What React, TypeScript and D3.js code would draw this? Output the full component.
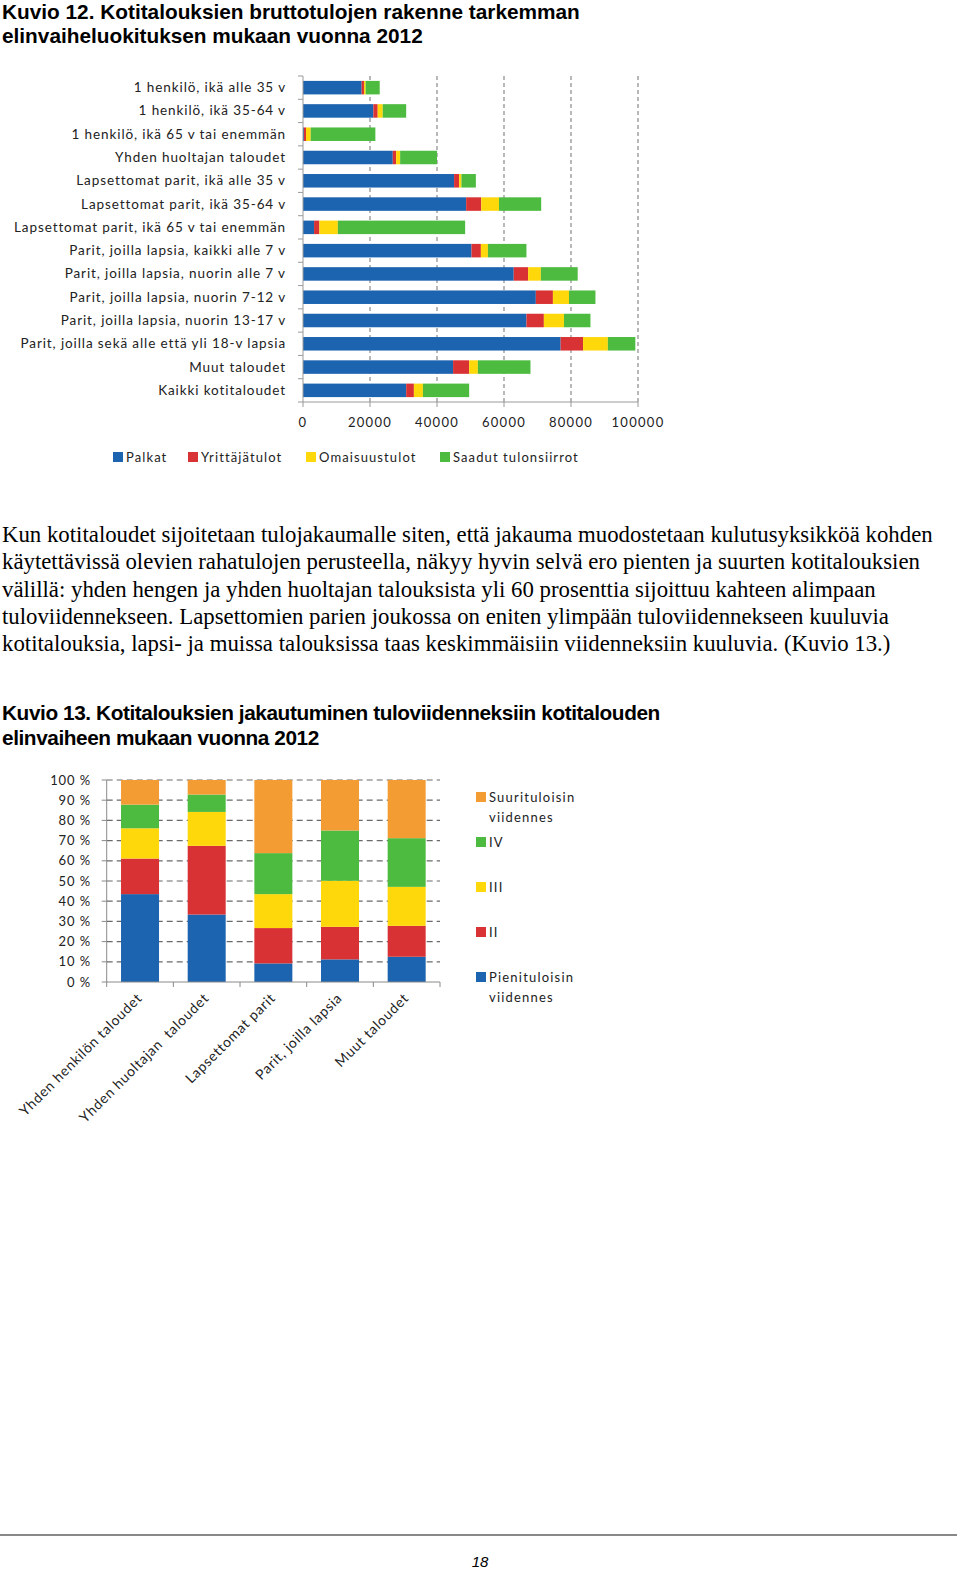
import React from "react";
import * as d3 from "d3";

// Kuvio 12 – bruttotulojen rakenne (euroa / kotitalous)
const rows12 = [
  "1 henkilö, ikä alle 35 v",
  "1 henkilö, ikä 35-64 v",
  "1 henkilö, ikä 65 v tai enemmän",
  "Yhden huoltajan taloudet",
  "Lapsettomat parit, ikä alle 35 v",
  "Lapsettomat parit, ikä 35-64 v",
  "Lapsettomat parit, ikä 65 v tai enemmän",
  "Parit, joilla lapsia, kaikki alle 7 v",
  "Parit, joilla lapsia, nuorin alle 7 v",
  "Parit, joilla lapsia, nuorin 7-12 v",
  "Parit, joilla lapsia, nuorin 13-17 v",
  "Parit, joilla sekä alle että yli 18-v lapsia",
  "Muut taloudet",
  "Kaikki kotitaloudet",
];
const palkat = [17500, 21000, 300, 26800, 45100, 48700, 3300, 50300, 62900, 69500, 66700, 76900, 44800, 30800];
const yrittajatulot = [700, 1300, 600, 1000, 1500, 4500, 1600, 2800, 4300, 5100, 5200, 6700, 4800, 2300];
const omaisuustulot = [500, 1500, 1400, 1200, 700, 5300, 5500, 2100, 3800, 4800, 6000, 7400, 2600, 2700];
const tulonsiirrot = [4200, 7000, 19300, 11000, 4300, 12600, 38000, 11500, 11000, 7900, 7900, 8200, 15700, 13800];
const series12 = ["Palkat", "Yrittäjätulot", "Omaisuustulot", "Saadut tulonsiirrot"];
const ticks12 = [0, 20000, 40000, 60000, 80000, 100000];

// Kuvio 13 – tuloviidennekset (%)
const groups13 = [
  "Yhden henkilön taloudet",
  "Yhden huoltajan  taloudet",
  "Lapsettomat parit",
  "Parit, joilla lapsia",
  "Muut taloudet",
];
const viidennesI = [43.5, 33.4, 9.2, 11.2, 12.5];
const viidennesII = [17.6, 34.0, 17.5, 16.1, 15.3];
const viidennesIII = [15.0, 16.8, 16.8, 22.8, 19.3];
const viidennesIV = [11.7, 8.6, 20.3, 24.9, 24.1];
const viidennesV = [12.2, 7.2, 36.2, 25.0, 28.8];
const series13 = ["Pienituloisin viidennes", "II", "III", "IV", "Suurituloisin viidennes"];
const ticks13 = [0, 10, 20, 30, 40, 50, 60, 70, 80, 90, 100];

const colors12 = ["#1c63b0", "#d93234", "#ffd80c", "#4dbb3f"];
const colors13 = ["#1c63b0", "#d93234", "#ffd80c", "#4dbb3f", "#f39c34"];

const paragraph = [
  "Kun kotitaloudet sijoitetaan tulojakaumalle siten, että jakauma muodostetaan kulutusyksikköä kohden",
  "käytettävissä olevien rahatulojen perusteella, näkyy hyvin selvä ero pienten ja suurten kotitalouksien",
  "välillä: yhden hengen ja yhden huoltajan talouksista yli 60 prosenttia sijoittuu kahteen alimpaan",
  "tuloviidennekseen. Lapsettomien parien joukossa on eniten ylimpään tuloviidennekseen kuuluvia",
  "kotitalouksia, lapsi- ja muissa talouksissa taas keskimmäisiin viidenneksiin kuuluvia. (Kuvio 13.)",
];

const labelFont = "Lato, 'Open Sans', sans-serif";

function TopChart() {
  const table = rows12.map((r, i) => ({
    row: r,
    Palkat: palkat[i],
    "Yrittäjätulot": yrittajatulot[i],
    Omaisuustulot: omaisuustulot[i],
    "Saadut tulonsiirrot": tulonsiirrot[i],
  }));
  const stacked = d3.stack<any>().keys(series12)(table);

  const x = d3.scaleLinear().domain([0, 100000]).range([303, 638]);
  const y = d3.scaleBand().domain(rows12).range([76, 402]).paddingInner(0.42).paddingOuter(0.21);
  const step = y.step();

  const legendX = [113, 188, 306, 440];

  return (
    <g>
      {/* gridlines */}
      {ticks12.slice(1).map((t) => (
        <line key={t} x1={x(t)} x2={x(t)} y1={76} y2={402} stroke="#8a8a8a" strokeWidth={1.2} strokeDasharray="4,3" />
      ))}
      {/* bars */}
      {stacked.map((s, si) => (
        <g key={s.key} fill={colors12[si]}>
          {s.map((d, i) => (
            <rect key={i} x={x(d[0])} y={y(rows12[i])} width={x(d[1]) - x(d[0])} height={y.bandwidth()} />
          ))}
        </g>
      ))}
      {/* axes */}
      <line x1={303} x2={303} y1={76} y2={402} stroke="#9a9a9a" />
      {d3.range(rows12.length + 1).map((i) => (
        <line key={i} x1={298} x2={303} y1={76 + i * step} y2={76 + i * step} stroke="#9a9a9a" />
      ))}
      <line x1={303} x2={x(100000)} y1={402} y2={402} stroke="#9a9a9a" />
      {ticks12.map((t) => (
        <g key={t}>
          <line x1={x(t)} x2={x(t)} y1={402} y2={407} stroke="#9a9a9a" />
          <text x={x(t)} y={427} textAnchor="middle" fontSize={13} letterSpacing={1.3} fontFamily={labelFont} fill="#222">
            {t}
          </text>
        </g>
      ))}
      {rows12.map((r) => (
        <text key={r} x={286} y={y(r)! + y.bandwidth() / 2 + 4.5} textAnchor="end" fontSize={13.5} letterSpacing={0.9} fontFamily={labelFont} fill="#222">
          {r}
        </text>
      ))}
      {/* legend */}
      {series12.map((s, i) => (
        <g key={s}>
          <rect x={legendX[i]} y={452} width={10} height={10} fill={colors12[i]} />
          <text x={legendX[i] + 13} y={462} fontSize={13} letterSpacing={1.1} fontFamily={labelFont} fill="#222">
            {s}
          </text>
        </g>
      ))}
    </g>
  );
}

function BottomChart() {
  const table = groups13.map((g, i) => ({
    group: g,
    [series13[0]]: viidennesI[i],
    [series13[1]]: viidennesII[i],
    [series13[2]]: viidennesIII[i],
    [series13[3]]: viidennesIV[i],
    [series13[4]]: viidennesV[i],
  }));
  const stacked = d3.stack<any>().keys(series13)(table);

  const x = d3.scaleBand().domain(groups13).range([106.7, 440]).paddingInner(0.43).paddingOuter(0.215);
  const y = d3.scaleLinear().domain([0, 100]).range([982, 780]);
  const step = x.step();

  // legend from top (Suurituloisin) to bottom (Pienituloisin)
  const legendOrder = [4, 3, 2, 1, 0];

  return (
    <g>
      {ticks13.slice(1).map((t) => (
        <line key={t} x1={106.7} x2={440} y1={y(t)} y2={y(t)} stroke="#6a6a6a" strokeWidth={1.2} strokeDasharray="6,4" />
      ))}
      {stacked.map((s, si) => (
        <g key={s.key} fill={colors13[si]}>
          {s.map((d, i) => (
            <rect key={i} x={x(groups13[i])} y={y(d[1])} width={x.bandwidth()} height={y(d[0]) - y(d[1])} />
          ))}
        </g>
      ))}
      <line x1={106.7} x2={106.7} y1={780} y2={982} stroke="#8a8a8a" />
      <line x1={106.7} x2={440} y1={982} y2={982} stroke="#8a8a8a" />
      {ticks13.map((t) => (
        <g key={t}>
          <line x1={101.7} x2={106.7} y1={y(t)} y2={y(t)} stroke="#8a8a8a" />
          <text x={91} y={y(t) + 4.5} textAnchor="end" fontSize={13} letterSpacing={0.9} fontFamily={labelFont} fill="#222">
            {t + " %"}
          </text>
        </g>
      ))}
      {d3.range(groups13.length + 1).map((i) => (
        <line key={i} x1={106.7 + i * step} x2={106.7 + i * step} y1={982} y2={987} stroke="#8a8a8a" />
      ))}
      {groups13.map((g) => {
        const cx = x(g)! + x.bandwidth() / 2 + 3;
        return (
          <text key={g} transform={`translate(${cx},999) rotate(-45)`} textAnchor="end" fontSize={14} letterSpacing={0.7} fontFamily={labelFont} fill="#222" style={{ whiteSpace: "pre" }}>
            {g}
          </text>
        );
      })}
      {legendOrder.map((si, k) => {
        const words = series13[si].split(" ");
        const ly = 797 + k * 45;
        return (
          <g key={si}>
            <rect x={476} y={ly - 5} width={10} height={10} fill={colors13[si]} />
            <text x={489} y={ly + 4.5} fontSize={13} letterSpacing={1.2} fontFamily={labelFont} fill="#222">
              {words[0]}
            </text>
            {words[1] && (
              <text x={489} y={ly + 24.5} fontSize={13} letterSpacing={1.2} fontFamily={labelFont} fill="#222">
                {words[1]}
              </text>
            )}
          </g>
        );
      })}
    </g>
  );
}

export default function App() {
  return (
    <svg width={960} height={1572} style={{ position: "absolute", left: 0, top: 0, background: "#fff" }}>
      <g fontFamily="'Liberation Sans', Arial, sans-serif" fontWeight="bold" fontSize={20.8} fill="#000">
        <text x={2} y={19}>Kuvio 12. Kotitalouksien bruttotulojen rakenne tarkemman</text>
        <text x={2} y={43}>elinvaiheluokituksen mukaan vuonna 2012</text>
      </g>
      <TopChart />
      <g fontFamily="'Liberation Serif', 'Times New Roman', serif" fontSize={22.8} fill="#000">
        {paragraph.map((line, i) => (
          <text key={i} x={2} y={542 + i * 27.3}>
            {line}
          </text>
        ))}
      </g>
      <g fontFamily="'Liberation Sans', Arial, sans-serif" fontWeight="bold" fontSize={20.8} fill="#000">
        <text x={2} y={720} letterSpacing={-0.42}>Kuvio 13. Kotitalouksien jakautuminen tuloviidenneksiin kotitalouden</text>
        <text x={2} y={745} letterSpacing={-0.42}>elinvaiheen mukaan vuonna 2012</text>
      </g>
      <BottomChart />
      <line x1={0} x2={957} y1={1535} y2={1535} stroke="#888" strokeWidth={2} />
      <text x={480} y={1567} textAnchor="middle" fontFamily="'Liberation Sans', Arial, sans-serif" fontStyle="italic" fontSize={15}>
        18
      </text>
    </svg>
  );
}
